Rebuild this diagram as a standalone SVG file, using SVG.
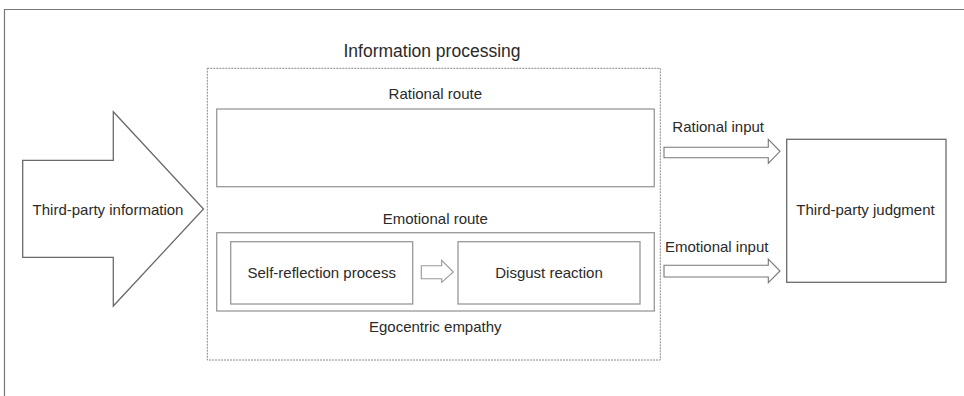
<svg xmlns="http://www.w3.org/2000/svg" width="964" height="396" viewBox="0 0 964 396">
<style>
text{font-family:"Liberation Sans",Arial,sans-serif;fill:#2a2a2a;font-size:15px}
.c{text-anchor:middle}
.box{fill:#fff;stroke:#999;stroke-width:1.3}
.dark{fill:#fff;stroke:#6a6a6a;stroke-width:1.3}
.arr{fill:#fff;stroke:#777;stroke-width:1.1}
</style>
<rect width="964" height="396" fill="#fff"/>
<path d="M4.5,396 V9.5 H964" fill="none" stroke="#777" stroke-width="1.2"/>
<g id="third-party-information">
<path class="dark" d="M22.7,160.3 H113.3 V111.7 L203.5,209 L113.3,306 V257.3 H22.7 Z"/>
<text x="108" y="214.5" class="c">Third-party information</text>
</g>
<g id="information-processing">
<rect x="207.3" y="68.3" width="453" height="291.7" fill="none" stroke="#888" stroke-width="1" stroke-dasharray="2,1"/>
<text x="432" y="57" class="c" style="font-size:17.5px">Information processing</text>
</g>
<g id="rational-route">
<text x="435.3" y="99.3" class="c">Rational route</text>
<rect class="box" x="216.7" y="109" width="437.6" height="77.7"/>
</g>
<g id="emotional-route">
<text x="435.3" y="224" class="c">Emotional route</text>
<rect class="box" x="216.7" y="232.7" width="437.6" height="78.3"/>
<text x="435.3" y="332" class="c">Egocentric empathy</text>
</g>
<g id="self-reflection">
<rect class="box" x="230.7" y="241.7" width="182" height="62.3"/>
<text x="321.7" y="278.3" class="c">Self-reflection process</text>
</g>
<g id="disgust-reaction">
<rect class="box" x="458" y="241.7" width="182" height="62.3"/>
<text x="549" y="278.3" class="c">Disgust reaction</text>
</g>
<g id="third-party-judgment">
<rect class="dark" x="786.7" y="139.3" width="159.3" height="143"/>
<text x="865.5" y="215" class="c">Third-party judgment</text>
</g>
<g id="connectors">
<path class="arr" d="M421.3,265.7 H441.7 V260.3 L453.3,272 L441.7,282.3 V278.7 H421.3 Z" style="stroke:#999"/>
<path class="arr" d="M664,147.3 H768.3 V139.3 L780,151.3 L768.3,163.3 V157.7 H664 Z"/>
<text x="672.3" y="132.3">Rational input</text>
<path class="arr" d="M664,265.3 H768.3 V259 L780,271 L768.3,282.7 V277 H664 Z"/>
<text x="665" y="251.7">Emotional input</text>
</g>
</svg>
